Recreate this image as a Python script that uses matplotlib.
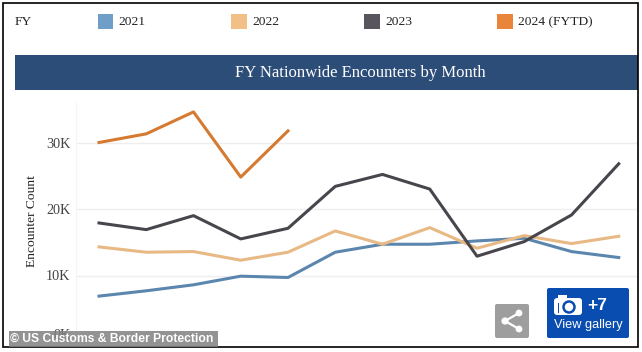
import matplotlib
matplotlib.use('Agg')
import matplotlib.pyplot as plt
from matplotlib.patches import Rectangle, FancyBboxPatch, Circle

plt.rcParams['font.family'] = ['Liberation Serif', 'DejaVu Serif']

months = list(range(12))
fy2021 = [6.9, 7.7, 8.6, 9.9, 9.7, 13.5, 14.7, 14.7, 15.2, 15.6, 13.6, 12.7]
fy2022 = [14.3, 13.5, 13.6, 12.3, 13.5, 16.7, 14.7, 17.2, 14.1, 16.0, 14.8, 15.9]
fy2023 = [17.9, 16.9, 19.0, 15.5, 17.1, 23.4, 25.2, 23.0, 12.9, 15.1, 19.1, 26.8]
fy2024 = [30.0, 31.3, 34.6, 24.8, 31.75]

y_ticks = [0, 10, 20, 30]
y_labels = ['0K', '10K', '20K', '30K']
legend_names = ['2021', '2022', '2023', '2024 (FYTD)']
legend_colors = ['#6f9fc9', '#f2bf87', '#58555f', '#e8853a']

W, H = 642, 352
fig = plt.figure(figsize=(W / 100, H / 100), dpi=100, facecolor='white')

# main plot, placed in pixels
left, right, top, bottom = 76, 638, 103, 342
ax = fig.add_axes([left / W, 1 - bottom / H, (right - left) / W, (bottom - top) / H])
ax.set_xlim((left - 99) / 47.25, (right - 99) / 47.25)
ax.set_ylim(0, (bottom - top) / 6.65)
ax.plot(months, fy2021, color='#5b86ad', lw=2.2)
ax.plot(months, fy2022, color='#e8b985', lw=2.2)
ax.plot(months, fy2023, color='#48464c', lw=2.2)
ax.plot(months[:len(fy2024)], fy2024, color='#d57a30', lw=2.2)
ax.set_xticks([])
ax.set_yticks(y_ticks)
ax.set_yticklabels(y_labels, fontsize=10.2, color='#444444')
ax.get_yticklabels()[0].set_verticalalignment('bottom')
ax.tick_params(axis='y', length=0, pad=4)
ax.grid(axis='y', color='#eeeeee', lw=1)
ax.set_axisbelow(True)
for s in ['top', 'right', 'bottom']:
    ax.spines[s].set_visible(False)
ax.spines['left'].set_color('#f5f5f5')
ax.set_ylabel('Encounter Count', fontsize=9.7, color='#222222')
ax.yaxis.set_label_coords((38 - left) / (right - left), 0.506)

# overlay in pixel coordinates for header, legend and badges
ov = fig.add_axes([0, 0, 1, 1], facecolor='none')
ov.set_xlim(0, W)
ov.set_ylim(H, 0)
ov.axis('off')

ov.add_patch(Rectangle((15, 55), 623, 35, fc='#2c4d77', ec='none'))
ov.text(360, 73, 'FY Nationwide Encounters by Month', color='white', fontsize=12, ha='center', va='center')

ov.text(15, 22, 'FY', fontsize=9.7, color='#222222', va='center')
for x, name, c in zip([97.5, 231, 364, 497], legend_names, legend_colors):
    ov.add_patch(Rectangle((x, 14), 15.5, 15, fc=c, ec='none'))
    ov.text(x + 21, 22, name, fontsize=9.7, color='#222222', va='center')

# black frame
ov.add_patch(Rectangle((3.3, 3.3), 634.7, 343.7, fc='none', ec='black', lw=1.2))

# credit strip
ov.add_patch(Rectangle((9, 331), 209, 16, fc='#808080', ec='none', alpha=0.85))
ov.text(10, 339, '© US Customs & Border Protection', color='white', fontsize=8.7, fontweight='bold',
        family='Liberation Sans', va='center')

# share button
ov.add_patch(FancyBboxPatch((495, 304), 34, 34, boxstyle='round,pad=0,rounding_size=2', fc='#9e9e9e', ec='none'))
ov.plot([519, 505, 519], [313, 321, 329], color='white', lw=1.6)
for cx, cy, r in [(519, 313, 3.4), (505, 321, 3.6), (519, 329, 3.4)]:
    ov.add_patch(Circle((cx, cy), r, fc='white', ec='none'))

# gallery button
ov.add_patch(FancyBboxPatch((547, 288), 82, 50, boxstyle='round,pad=0,rounding_size=2', fc='#0a4db0', ec='none'))
ov.add_patch(FancyBboxPatch((554, 298), 28, 17, boxstyle='round,pad=0,rounding_size=3', fc='white', ec='none'))
ov.add_patch(Rectangle((558, 295), 9, 4, fc='white', ec='none'))
ov.add_patch(Rectangle((557.5, 303), 1.5, 10, fc='#0a4db0', ec='none'))
ov.add_patch(Circle((569, 307), 5.5, fc='white', ec='#0a4db0', lw=1.8))
ov.text(587, 306, '+7', color='white', fontsize=12.5, fontweight='bold', family='Liberation Sans', va='center')
ov.text(554, 325, 'View gallery', color='white', fontsize=9.2, family='Liberation Sans', va='center')

fig.savefig('out.png', dpi=100)
